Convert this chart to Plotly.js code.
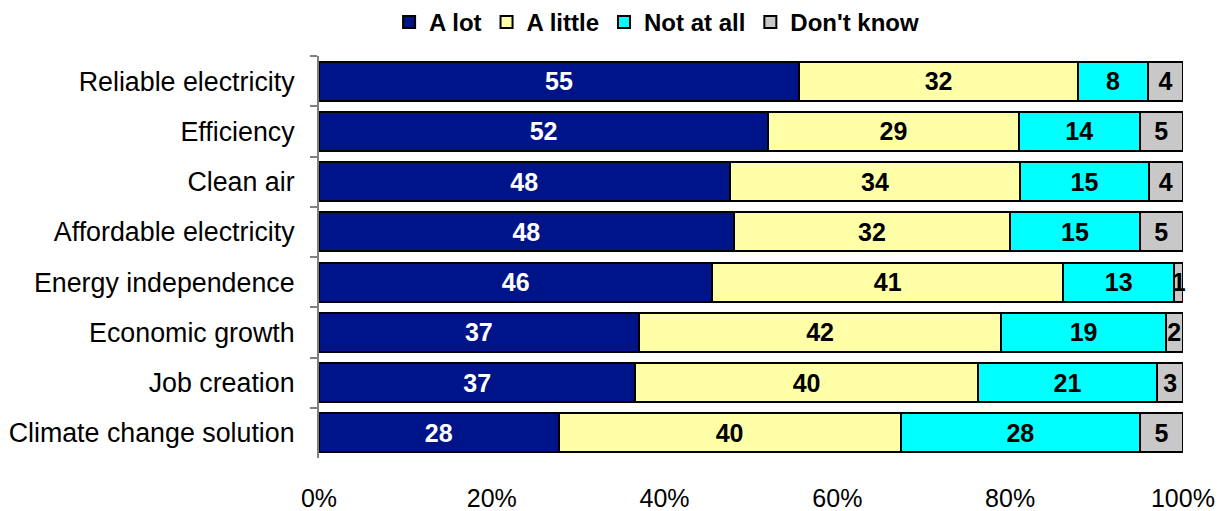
<!DOCTYPE html>
<html><head><meta charset="utf-8">
<script src="https://cdn.plot.ly/plotly-3.0.1.min.js"></script>
<style>body{margin:0;background:#fff}#chart{width:1225px;height:511px}</style>
</head><body><div id="chart"></div>
<script>
const categories = ["Reliable electricity","Efficiency","Clean air","Affordable electricity","Energy independence","Economic growth","Job creation","Climate change solution"];
const aLot = [55,52,48,48,46,37,37,28];
const aLittle = [32,29,34,32,41,42,40,40];
const notAtAll = [8,14,15,15,13,19,21,28];
const dontKnow = [4,5,4,5,1,2,3,5];
const seriesNames = ["A lot","A little","Not at all","Don't know"];
const seriesValues = [aLot,aLittle,notAtAll,dontKnow];
const xTickVals = [0,20,40,60,80,100];
const xTickText = ['0%','20%','40%','60%','80%','100%'];
const colors = ["#001489","#FFFFA8","#00FFFF","#C8C8C8"];
const textColors = ["#FFFFFF","#000000","#000000","#000000"];

const traces = seriesValues.map((vals,i)=>({
  type:'bar', orientation:'h', name:seriesNames[i],
  y:categories, x:vals, text:vals.map(String), texttemplate:'%{text}',
  textposition:'inside', insidetextanchor:'middle',
  textfont:{family:'Liberation Sans, Arial, sans-serif', size:25, color:textColors[i], weight:'bold'},
  marker:{color:colors[i], line:{color:'#000', width:2}},
  hoverinfo:'none', cliponaxis:false
}));

const layout = {
  width:1225, height:511,
  margin:{l:319, r:42, t:56, b:53},
  barmode:'stack', barnorm:'percent', bargap:0.22,
  paper_bgcolor:'#fff', plot_bgcolor:'#fff',
  font:{family:'Liberation Sans, Arial, sans-serif', size:25, color:'#000'},
  uniformtext:{mode:'show', minsize:25},
  showlegend:true,
  legend:{orientation:'h', xref:'container', yref:'container', x:0.536, xanchor:'center', y:1.0, yanchor:'top',
    font:{size:24, weight:'bold'}, traceorder:'normal', tracegroupgap:0},
  xaxis:{range:[0,100.01], tickvals:xTickVals, ticktext:xTickText,
    showgrid:false, zeroline:false, showline:false, ticks:'', ticklabelstandoff:23, fixedrange:true,
    tickfont:{size:25}},
  yaxis:{type:'category', autorange:'reversed', showgrid:false, zeroline:false, showline:true,
    linecolor:'#808080', linewidth:2, ticks:'outside', tickson:'boundaries', ticklen:7, tickcolor:'#808080', tickwidth:2,
    ticklabelstandoff:17, tickfont:{size:26.8}}
};
Plotly.newPlot('chart', traces, layout, {displayModeBar:false, staticPlot:true});
</script></body></html>
